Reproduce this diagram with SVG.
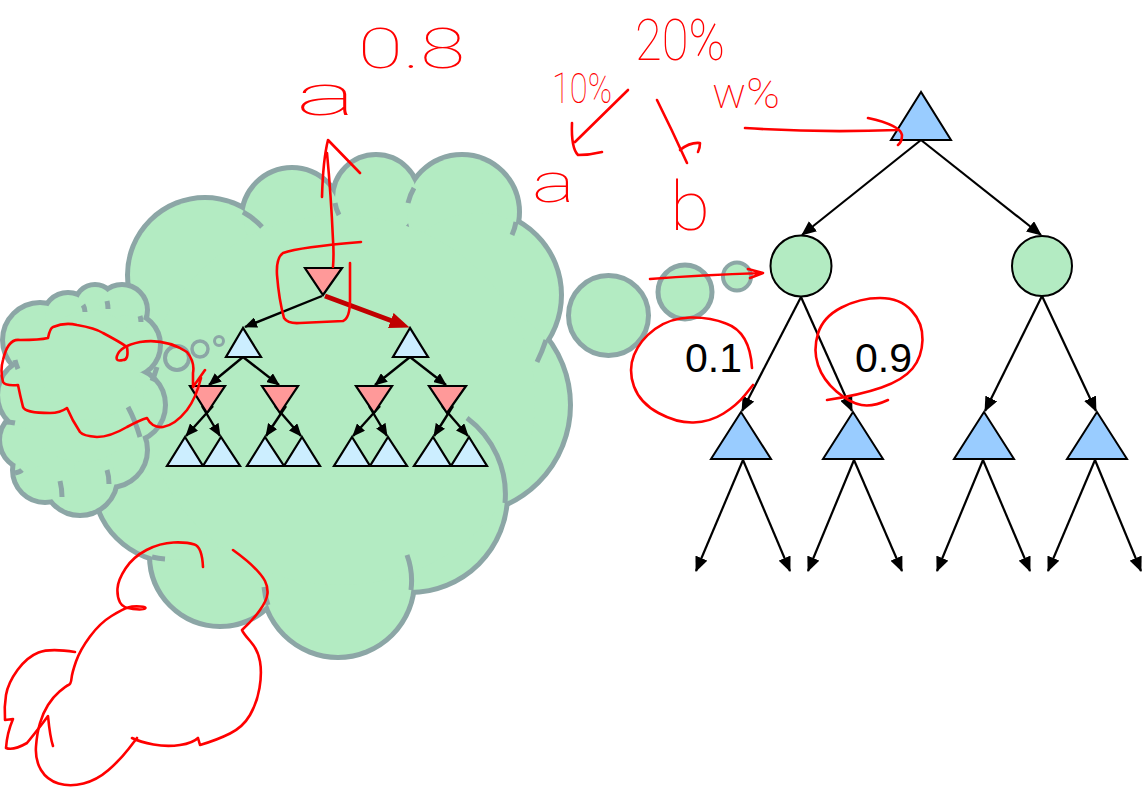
<svg xmlns="http://www.w3.org/2000/svg" xmlns:xlink="http://www.w3.org/1999/xlink" width="1142" height="792" viewBox="0 0 1142 792">
<defs>
<style>
.cl{fill:#b3ebc2;stroke:#8ca6a6;stroke-width:10}
.clf{fill:#b3ebc2;stroke:none}
.tick{fill:none;stroke:#8ca6a6;stroke-width:5}
.bub{fill:#b3ebc2;stroke:#8ca6a6}
.tb{fill:#cceeff;stroke:#000;stroke-width:2.2}
.tr{fill:#ff9999;stroke:#000;stroke-width:2.2}
.big{fill:#99ccff;stroke:#000;stroke-width:2}
.cn{fill:#b3ebc2;stroke:#000;stroke-width:2}
.e1{fill:none;stroke:#000;stroke-width:2.4;marker-end:url(#a1)}
.e2{fill:none;stroke:#000;stroke-width:2.2;marker-end:url(#a2)}
.e3{fill:none;stroke:#c00000;stroke-width:5;marker-end:url(#a3)}
.ink{fill:none;stroke:#ff0000;stroke-width:2.6;stroke-linecap:round;stroke-linejoin:round}
.hw{fill:#ff0000;font-family:Roboto,Lato,"DejaVu Sans",sans-serif;font-weight:100}
.lbl{font-family:"Liberation Sans",Arial,sans-serif;font-size:41px;fill:#000}
</style>
<marker id="a1" markerUnits="userSpaceOnUse" markerWidth="13" markerHeight="11" viewBox="0 0 13 11" refX="12" refY="5.5" orient="auto"><path d="M0,0 L13,5.5 L0,11 z" fill="#000"/></marker>
<marker id="a2" markerUnits="userSpaceOnUse" markerWidth="15" markerHeight="13" viewBox="0 0 15 13" refX="14" refY="6.5" orient="auto"><path d="M0,0 L15,6.5 L0,13 z" fill="#000"/></marker>
<marker id="a3" markerUnits="userSpaceOnUse" markerWidth="20" markerHeight="16" viewBox="0 0 20 16" refX="13" refY="8" orient="auto"><path d="M0,0 L20,8 L0,16 z" fill="#c00000"/></marker>
<g id="mcs">
<circle cx="205" cy="275" r="75"/>
<circle cx="292" cy="218" r="48"/>
<circle cx="376" cy="198" r="41"/>
<circle cx="462" cy="212" r="55"/>
<circle cx="477" cy="295" r="82"/>
<circle cx="461" cy="405" r="107"/>
<circle cx="410" cy="495" r="95"/>
<circle cx="338" cy="581" r="74"/>
<circle cx="220" cy="556" r="68"/>
<circle cx="175" cy="480" r="80"/>
<circle cx="172" cy="392" r="72"/>
</g>
<g id="scs">
<circle cx="40" cy="340" r="35"/>
<circle cx="68" cy="318" r="23"/>
<circle cx="95" cy="305" r="18"/>
<circle cx="122" cy="310" r="23"/>
<circle cx="128" cy="345" r="30"/>
<circle cx="128" cy="405" r="35"/>
<circle cx="110" cy="450" r="35"/>
<circle cx="80" cy="478" r="35"/>
<circle cx="45" cy="470" r="30"/>
<circle cx="30" cy="440" r="28"/>
<circle cx="35" cy="395" r="35"/>
</g>
</defs>
<rect width="1142" height="792" fill="#fff"/>

<g id="main-cloud">
<use xlink:href="#mcs" href="#mcs" class="cl"/>
<use xlink:href="#mcs" href="#mcs" class="clf"/>
<ellipse class="clf" cx="340" cy="400" rx="195" ry="185"/>
<path class="tick" d="M243,212 A75,75 0 0 1 262,227 M335,203 A41,41 0 0 0 339,215 M414,188 A55,55 0 0 0 408,203 M516,222 A55,55 0 0 1 512,235 M546,340 Q542,352 537,362 M505,503 A95,95 0 0 0 467,418 M411,590 A74,74 0 0 0 407,555 M268,605 A74,74 0 0 1 264,587 M152,557 A80,80 0 0 0 165,559"/>
</g>

<g id="small-cloud">
<use xlink:href="#scs" href="#scs" class="cl"/>
<use xlink:href="#scs" href="#scs" class="clf"/>
<circle class="clf" cx="82" cy="400" r="62"/>
<ellipse class="clf" cx="90" cy="365" rx="50" ry="55"/>
<path class="tick" d="M157,367 Q155,374 152,381 M128,407 Q135,420 140,437 M107,470 Q109,476 109,484 M60,481 Q62,489 62,497 M22,470 Q20,472 15,473 M15,423 Q10,422 5,422 M15,360 Q16,364 18,369 M83,305 Q85,308 85,312 M107,301 Q108,305 108,309 M140,316 Q141,319 141,322"/>
</g>

<g id="bubbles">
<circle class="bub" cx="177" cy="358" r="12" stroke-width="4"/>
<circle class="bub" cx="200" cy="349" r="8" stroke-width="3.5"/>
<circle class="bub" cx="219" cy="341" r="4.5" stroke-width="3"/>
<circle class="bub" cx="608.5" cy="315.5" r="40" stroke-width="5"/>
<circle class="bub" cx="685" cy="292" r="27" stroke-width="5"/>
<circle class="bub" cx="737" cy="276.5" r="14" stroke-width="4"/>
</g>

<g id="mini-tree-edges">
<path class="e1" d="M322,296 L245,327"/>
<path class="e3" d="M325,296 L403,325"/>
<path class="e1" d="M243,357 L209,385"/>
<path class="e1" d="M243,357 L279,385"/>
<path class="e1" d="M410,357 L375,385"/>
<path class="e1" d="M410,357 L446,385"/>
<path class="e1" d="M213,406 L186,436"/>
<path class="e1" d="M202,406 L220,436"/>
<path class="e1" d="M286,406 L266,436"/>
<path class="e1" d="M275,406 L301,436"/>
<path class="e1" d="M380,406 L353,436"/>
<path class="e1" d="M369,406 L387,436"/>
<path class="e1" d="M453,406 L434,436"/>
<path class="e1" d="M442,406 L468,436"/>
</g>

<g id="mini-tree-nodes">
<g id="m-root"><polygon class="tr" points="305,268 342,268 323,295"/></g>
<g id="m-l"><polygon class="tb" points="243,328 226,357 261,357"/></g>
<g id="m-r"><polygon class="tb" points="410,328 393,357 428,357"/></g>
<g id="m-ll"><polygon class="tr" points="190,386 225,386 207,413"/></g>
<g id="m-lr"><polygon class="tr" points="262,386 298,386 280,413"/></g>
<g id="m-rl"><polygon class="tr" points="356,386 392,386 374,413"/></g>
<g id="m-rr"><polygon class="tr" points="429,386 466,386 447,413"/></g>
<g id="m-leaf1"><polygon class="tb" points="185,437 167,466 203,466"/></g>
<g id="m-leaf2"><polygon class="tb" points="221,437 203,466 240,466"/></g>
<g id="m-leaf3"><polygon class="tb" points="265,437 247,466 284,466"/></g>
<g id="m-leaf4"><polygon class="tb" points="302,437 284,466 320,466"/></g>
<g id="m-leaf5"><polygon class="tb" points="352,437 334,466 370,466"/></g>
<g id="m-leaf6"><polygon class="tb" points="388,437 370,466 407,466"/></g>
<g id="m-leaf7"><polygon class="tb" points="433,437 414,466 451,466"/></g>
<g id="m-leaf8"><polygon class="tb" points="469,437 451,466 487,466"/></g>
</g>

<g id="tree-edges">
<path class="e2" d="M921,140 L802,235"/>
<path class="e2" d="M921,140 L1041,235"/>
<path class="e2" d="M801,297 L742,411"/>
<path class="e2" d="M801,297 L852,411"/>
<path class="e2" d="M1042,296 L985,411"/>
<path class="e2" d="M1042,296 L1096,411"/>
<path class="e2" d="M743,460 L696,571"/>
<path class="e2" d="M743,460 L790,571"/>
<path class="e2" d="M854,460 L808,571"/>
<path class="e2" d="M854,460 L902,571"/>
<path class="e2" d="M983,460 L937,571"/>
<path class="e2" d="M983,460 L1030,571"/>
<path class="e2" d="M1095,460 L1048,571"/>
<path class="e2" d="M1095,460 L1141,571"/>
</g>

<g id="tree-nodes">
<g id="max-root"><polygon class="big" points="921,92 891,140 951,140"/></g>
<g id="chance-1"><circle class="cn" cx="801" cy="266" r="30.5"/></g>
<g id="chance-2"><circle class="cn" cx="1042" cy="266" r="30"/></g>
<g id="max-1"><polygon class="big" points="741,412 711,459 771,459"/></g>
<g id="max-2"><polygon class="big" points="853,412 823,459 883,459"/></g>
<g id="max-3"><polygon class="big" points="984,412 954,459 1014,459"/></g>
<g id="max-4"><polygon class="big" points="1097,412 1067,459 1127,459"/></g>
</g>

<g id="edge-labels">
<text class="lbl" x="685" y="372">0.1</text>
<text class="lbl" x="855" y="372">0.9</text>
</g>

<g id="annotations">
<text class="hw" x="296" y="115" font-size="58" textLength="60" lengthAdjust="spacingAndGlyphs">a</text>
<text class="hw" x="358" y="68" font-size="56" textLength="107" lengthAdjust="spacingAndGlyphs">0.8</text>
<text class="hw" x="552" y="103" font-size="42" textLength="60" lengthAdjust="spacingAndGlyphs">10%</text>
<text class="hw" x="635" y="60" font-size="58" textLength="90" lengthAdjust="spacingAndGlyphs">20%</text>
<text class="hw" x="712" y="108" font-size="42" textLength="68" lengthAdjust="spacingAndGlyphs">w%</text>
<text class="hw" x="532" y="202" font-size="56" textLength="43" lengthAdjust="spacingAndGlyphs">a</text>
<text class="hw" x="670" y="230" font-size="68" textLength="40" lengthAdjust="spacingAndGlyphs">b</text>

<path class="ink" d="M628,90 L575,142 M572,123 Q571,148 578,155 Q590,155 602,152"/>
<path class="ink" d="M657,100 Q672,130 687,163 M680,150 Q690,142 700,143 Q700,148 698,152"/>
<path class="ink" d="M745,128 Q820,133 897,130 M868,118 Q900,125 902,135 Q902,142 898,145"/>
<path class="ink" d="M650,279 Q700,275 763,273 M748,269 L763,273 L750,278"/>
<path class="ink" d="M752,368 Q750,332 726,323.5 Q710,317 690,317.5 Q670,318 655,329 Q640,340 634,355 Q628,370 634,386.5 Q640,403 658.5,413 Q677,423 693.5,422.5 Q710,422 723.5,413.5 Q737,405 745,395 L753,385"/>
<path class="ink" d="M827,400 Q860,395 881.5,387.5 Q903,380 912.5,368.5 Q922,357 922.5,340 Q923,323 911.5,310.5 Q900,298 880,298 Q860,298 841.5,307.5 Q823,317 818,333.5 Q813,350 818,365 Q823,380 836.5,391.5 Q850,403 861.5,405 Q873,407 888,400"/>
<path class="ink" d="M333,267 Q334,254 333,240 Q331,195 327,153 M322,197 Q323,160 328,140 L360,173"/>
<path class="ink" d="M361,242 Q300,247 283,253 Q276,258 277,275 Q279,300 284,318 Q288,324 300,323 L343,321 Q350,318 350,300 L350,263"/>
<path class="ink" d="M201,378 Q196,398 187,410 Q175,425 163,427 Q152,428 147,418 Q140,420 127,427 Q110,437 97,437 Q83,436 80,432 Q72,420 67,408 Q60,413 50,413 Q25,413 23,407 Q20,395 18,385 Q5,386 3,382 Q0,370 3,360 Q8,338 20,340 Q40,340 48,338 Q50,328 53,327 Q65,322 77,325 Q95,328 103,333 Q120,342 127,347 Q129,360 123,360 Q115,362 117,356 Q120,346 140,342 Q165,338 187,352 Q195,362 193,373 L193,387 L205,370"/>
<path class="ink" d="M203,567 Q202,547 194.5,544.5 Q187,542 173.5,542.5 Q160,543 146.5,550 Q133,557 125.5,568.5 Q118,580 117.5,588.5 Q117,597 120,602.5 Q123,608 133,609 Q143,610 145,608.5 Q147,607 140,606.5 Q133,606 128,607.5 Q123,609 111.5,616 Q100,623 90,636.5 Q80,650 76,661.5 Q72,673 71.5,678.5 Q71,684 68.5,685 Q66,686 59.5,691.5 Q53,697 48,705 Q43,713 40,723 Q37,733 36,746.5 Q35,760 41,770 Q47,780 58.5,783.5 Q70,787 83.5,783.5 Q97,780 108.5,770 Q120,760 128.5,749 L137,738"/>
<path class="ink" d="M132,738 Q140,742 153.5,744.5 Q167,747 180,745 Q193,743 198,738 L200,745 Q217,740 230,733.5 Q243,727 250,715 Q257,703 259.5,688 Q262,673 260,661.5 Q258,650 250.5,641.5 Q243,633 242,630 Q253,620 260,610 Q267,600 267.5,593.5 Q268,587 265,581 Q258,568 233,550"/>
<path class="ink" d="M75,652 Q50,648 38.5,652.5 Q27,657 17.5,670 Q8,683 6,695 Q4,707 5,720 L13,719 Q7,733 6,748 Q13,751 27,743 Q40,727 48,716 Q50,737 53,746"/>
</g>
</svg>
